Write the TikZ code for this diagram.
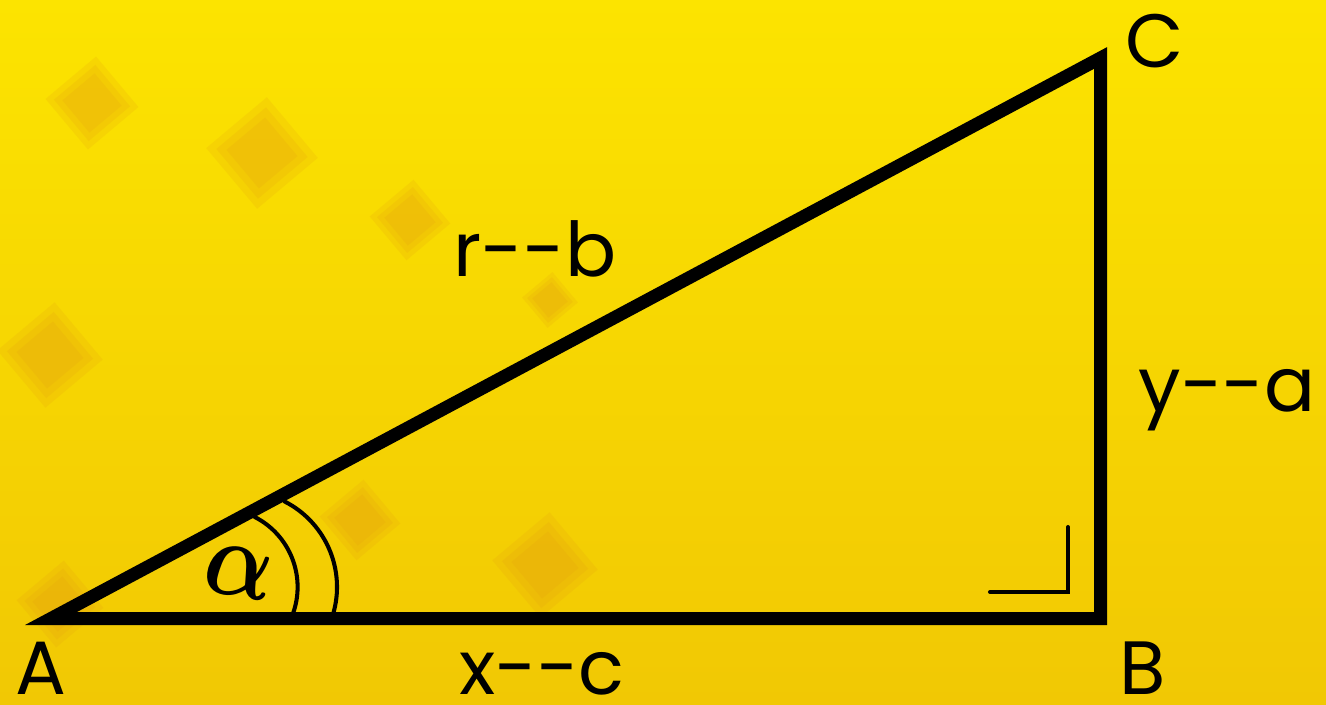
\documentclass[tikz,border=0pt]{standalone}
\usepackage{amsmath}
\usepackage{fontspec}
\setmainfont{Poppins}
\usepackage{tikz}
\usetikzlibrary{arrows.meta}

\definecolor{paperlight}{RGB}{252,228,0}
\definecolor{paperdark}{RGB}{241,200,4}
\definecolor{blotch}{RGB}{226,150,20}

\tikzset{
	vlabel/.style={font=\fontsize{43}{43}\selectfont, anchor=base, inner sep=0pt, text depth=0pt},
	side/.style={line width=7.4pt, line join=miter},
	thinline/.style={line width=2.3pt, line cap=round},
	anglelabel/.style={font=\fontsize{20}{20}\selectfont\boldmath, inner sep=0pt, xscale=2.5, yscale=3.0, rotate=-8}
}

\begin{document}
\begin{tikzpicture}[x=0.02cm, y=0.02cm, >=Stealth]
		
		% Yellow paper background
		\useasboundingbox (0,0) rectangle (1326,704);
		\shade[shading angle=20, top color=paperlight, bottom color=paperdark] (0,0) rectangle (1326,704);
		
		% Soft orange blotches on the paper
		\foreach \bx/\by/\bs in {92/601/30, 262/551/36, 410/484/26, 50/349/34, 545/139/34, 360/184/26, 550/404/18, 60/100/28}{
			\foreach \k in {1.1,0.9,0.7}
				\fill[blotch, opacity=0.15, rotate around={40:(\bx,\by)}] (\bx-\k*\bs,\by-\k*\bs) rectangle (\bx+\k*\bs,\by+\k*\bs);
		}
		
		% Corners of the triangle
		\coordinate (A) at (51,85.5);
		\coordinate (B) at (1100.5,85.5);
		\coordinate (C) at (1100.5,646);
		
		% Draw the triangle
		\draw[side] (A) -- (B) -- (C) -- cycle;
		
		% Right angle mark at B
		\coordinate (m1) at (990,112);
		\coordinate (m2) at (1068,112);
		\coordinate (m3) at (1068,177);
		\draw[thinline] (m1) -- (m2) -- (m3);
		
		% Double arc for the angle at A
		\draw[thinline] (219,117) ++(63:78.6) arc[start angle=63, end angle=-20, radius=78.6];
		\draw[thinline] (241,117) ++(63:96) arc[start angle=63, end angle=-20, radius=96];
		\node[anglelabel] (alph) at (239,132) {$\alpha$};
		
		% Names of the corners
		\node[vlabel] (labA) at (41,10) {A};
		\node[vlabel] (labB) at (1143,10) {B};
		\node[vlabel] (labC) at (1155,636) {C};
		
		% Names of the sides
		\node[vlabel] (hyp) at (535,427) {r-\kern0pt-b};
		\node[vlabel] (opp) at (1227,292) {y-\kern0pt-a};
		\node[vlabel] (adj) at (542,10) {x-\kern0pt-c};
		
	\end{tikzpicture}
\end{document}
